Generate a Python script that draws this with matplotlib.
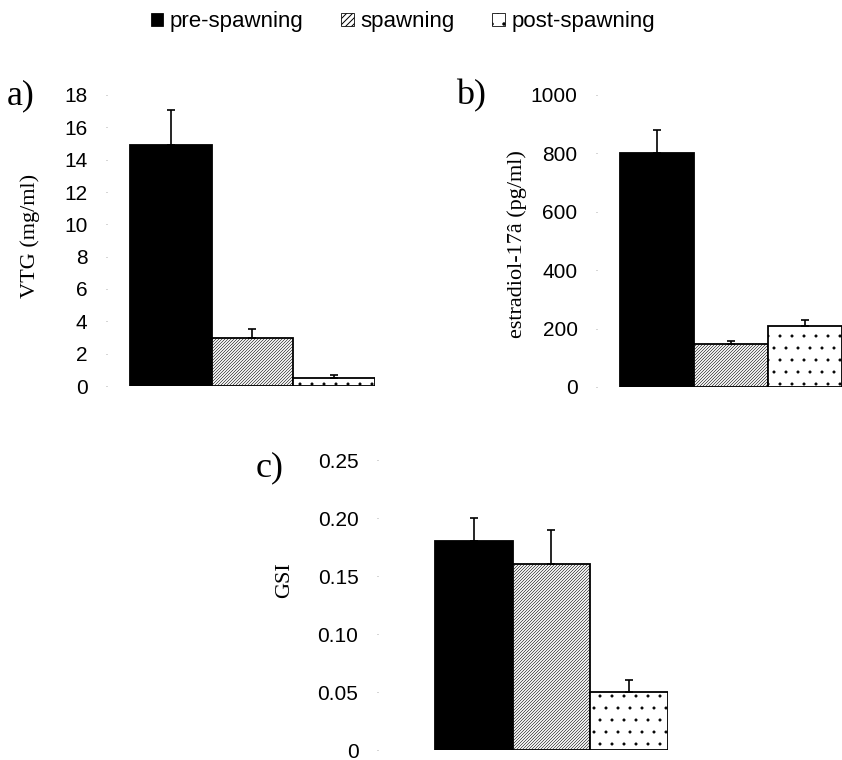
import matplotlib
matplotlib.use("Agg")
import matplotlib.pyplot as plt
from matplotlib.patches import Patch

phases = ["pre-spawning", "spawning", "post-spawning"]
vtg = [14.9, 3.0, 0.5]
vtg_err = [2.2, 0.5, 0.2]
e2 = [800, 148, 210]
e2_err = [80, 10, 20]
gsi = [0.18, 0.16, 0.05]
gsi_err = [0.02, 0.03, 0.01]

vtg_ticks = [0, 2, 4, 6, 8, 10, 12, 14, 16, 18]
vtg_labels = ["0", "2", "4", "6", "8", "10", "12", "14", "16", "18"]
e2_ticks = [0, 200, 400, 600, 800, 1000]
e2_labels = ["0", "200", "400", "600", "800", "1000"]
gsi_ticks = [0, 0.05, 0.10, 0.15, 0.20, 0.25]
gsi_labels = ["0", "0.05", "0.10", "0.15", "0.20", "0.25"]

faces = ["black", "white", "white"]
hatches = [None, "////////", "."]
hatch_lw = [0.5, 0.55, 0.5]

W, H = 842, 760
DPI = 72
K = 100 / 72  # points scale so sizes match a 100-dpi layout
fig = plt.figure(figsize=(W / DPI, H / DPI), dpi=DPI)

def px_axes(left, right, top, bottom):
    return fig.add_axes([left / W, (H - bottom) / H, (right - left) / W, (bottom - top) / H])

SANS = "Liberation Sans"
SERIF = "Liberation Serif"

def draw(ax, vals, errs, ticks, labels, ymax, gap):
    x = list(range(len(vals)))
    for i in x:
        with plt.rc_context({"hatch.linewidth": hatch_lw[i], "hatch.color": "#222222"}):
            ax.bar(i, vals[i], width=1.0, color=faces[i], edgecolor="black",
                   hatch=hatches[i], linewidth=1.3 * K, zorder=2)
    ax.errorbar(x, vals, yerr=[[0] * len(vals), errs], fmt="none", ecolor="black",
                elinewidth=1.2 * K, capsize=4, capthick=1.2 * K, zorder=3)
    ax.set_xlim(-0.5 - gap, len(vals) - 0.5)
    ax.set_ylim(0, ymax)
    ax.set_yticks(ticks)
    ax.set_yticklabels(labels, fontfamily=SANS, fontsize=15 * K)
    ax.tick_params(axis="y", length=1.5, width=0.8, color="#999999", pad=18)
    ax.set_xticks([])
    for s in ax.spines.values():
        s.set_visible(False)
    ax.patch.set_alpha(0)

ax_a = px_axes(107, 375, 95, 386)
draw(ax_a, vtg, vtg_err, vtg_ticks, vtg_labels, 18, 0.28)
ax_b = px_axes(597, 842, 95, 387)
draw(ax_b, e2, e2_err, e2_ticks, e2_labels, 1000, 0.31)
ax_c = px_axes(378, 668, 460, 750)
draw(ax_c, gsi, gsi_err, gsi_ticks, gsi_labels, 0.25, 0.73)

fig.text(30 / W, 1 - 236 / H, "VTG (mg/ml)", rotation=90, ha="center", va="center",
         fontfamily=SERIF, fontsize=16 * K)
fig.text(517 / W, 1 - 244 / H, "estradiol-17â (pg/ml)", rotation=90, ha="center", va="center",
         fontfamily=SERIF, fontsize=16 * K)
fig.text(285 / W, 1 - 580 / H, "GSI", rotation=90, ha="center", va="center",
         fontfamily=SERIF, fontsize=16 * K)

fig.text(7 / W, 1 - 96 / H, "a)", ha="left", va="center", fontfamily=SERIF, fontsize=26 * K)
fig.text(456 / W, 1 - 96 / H, "b)", ha="left", va="center", fontfamily=SERIF, fontsize=26 * K)
fig.text(256 / W, 1 - 468 / H, "c)", ha="left", va="center", fontfamily=SERIF, fontsize=26 * K)

handles = []
for i in range(3):
    with plt.rc_context({"hatch.linewidth": 0.9, "hatch.color": "#222222"}):
        handles.append(Patch(facecolor=faces[i], edgecolor="black",
                             hatch=("////" if i == 1 else hatches[i]), linewidth=0.8,
                             label=phases[i]))
fig.legend(handles=handles, loc="center", bbox_to_anchor=(403 / W, 1 - 22 / H), ncol=3,
           frameon=False, prop={"family": SANS, "size": 16 * K}, handlelength=0.55,
           handleheight=0.55, handletextpad=0.3, columnspacing=1.7)

fig.savefig("out.png", dpi=DPI, facecolor="white")
